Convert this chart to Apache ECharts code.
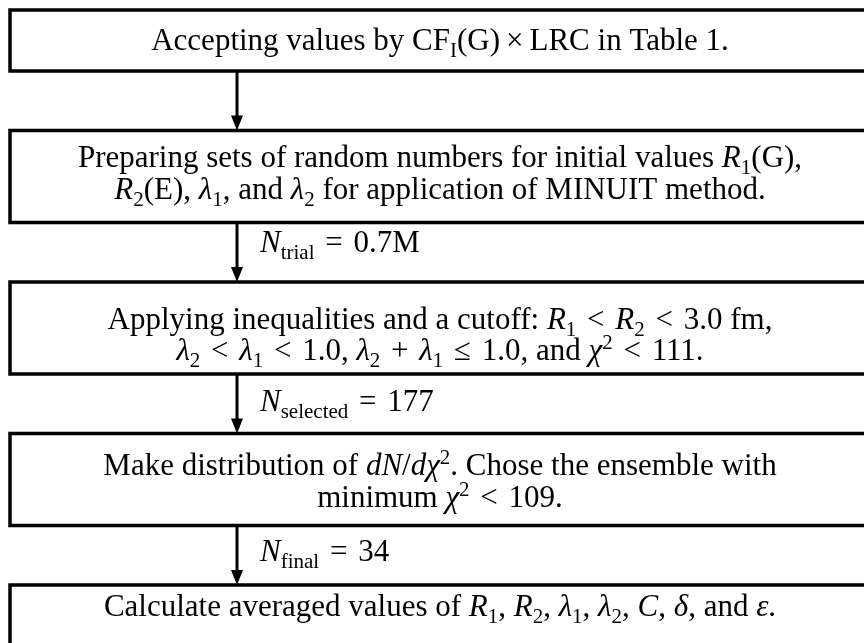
<!DOCTYPE html>
<html>
<head>
<meta charset="utf-8">
<script src="https://cdn.jsdelivr.net/npm/echarts@6/dist/echarts.min.js"></script>
<style>
  html, body { margin: 0; padding: 0; background: #fff; }
  #main { width: 864px; height: 643px; }
</style>
</head>
<body>
<div id="main"></div>
<script>
// flow steps, one entry per box, one string per text line (rich text markup)
const steps = [
  ['Accepting values by CF{sub|I}(G){bin|×}LRC in Table 1.'],
  ['Preparing sets of random numbers for initial values {it|R}{sub|1}(G),',
   '{it|R}{sub|2}(E), {it|λ}{sub|1}, and {it|λ}{sub|2} for application of MINUIT method.'],
  ['Applying inequalities and a cutoff: {it|R}{sub|1} {rel|<} {it|R}{sub|2} {rel|<} 3.0 fm,',
   '{it|λ}{sub|2} {rel|<} {it|λ}{sub|1} {rel|<} 1.0, {it|λ}{sub|2} {rel|+} {it|λ}{sub|1} {rel|≤} 1.0, and {it|χ}{sup|2} {rel|<} 111.'],
  ['Make distribution of {it|dN}/{it|dχ}{sup|2}. Chose the ensemble with',
   'minimum {it|χ}{sup|2} {rel|<} 109.'],
  ['Calculate averaged values of {it|R}{sub|1}, {it|R}{sub|2}, {it|λ}{sub|1}, {it|λ}{sub|2}, {it|C}, {it|δ}, and {it|ε}.']
]
// counts written next to the arrows (arrow k leads into box k + 1)
const counts = [
  null,
  '{it|N}{sub|trial} {rel|=} 0.7M',
  '{it|N}{sub|selected} {rel|=} 177',
  '{it|N}{sub|final} {rel|=} 34'
]

var myChart = echarts.init(document.getElementById('main'))

const fontFamily = '"Liberation Serif", "DejaVu Serif", serif'
const fontSize = 31
const rich = {
  it: { fontStyle: 'italic', fontSize: fontSize, fontFamily: fontFamily },
  rel: { fontSize: fontSize, fontFamily: fontFamily, padding: [0, 3, 0, 3] },
  bin: { fontSize: fontSize, fontFamily: fontFamily, padding: [0, 6, 0, 6] },
  sub: { fontSize: 21, fontFamily: fontFamily, padding: [19, 0, 0, 0] },
  sup: { fontSize: 21, fontFamily: fontFamily, padding: [0, 0, 17, 0] }
}

// layout: box heights, text line offsets from each box top, label shifts
const boxHeights = [61, 92, 92, 92, 61]
const lineOffsets = [[32], [28, 60], [38.5, 69.5], [33, 65], [22.5]]
const labelShift = [0, -8.5, -1, -2.5]
const boxLeft = 10
const boxWidth = 900
const textX = 440
const arrowX = 237
const gap = 59.5

const elements = []
let boxTop = 10
steps.forEach((lines, i) => {
  const h = boxHeights[i]
  if (i > 0) {
    const y0 = boxTop - gap
    elements.push({
      type: 'line',
      shape: { x1: arrowX, y1: y0, x2: arrowX, y2: boxTop - 12 },
      style: { stroke: '#000', lineWidth: 3 }
    })
    elements.push({
      type: 'polygon',
      shape: { points: [[arrowX - 6, boxTop - 15], [arrowX + 6, boxTop - 15], [arrowX, boxTop]] },
      style: { fill: '#000' }
    })
    if (counts[i - 1]) {
      elements.push({
        type: 'text',
        x: 260,
        y: boxTop - gap / 2 + labelShift[i - 1],
        style: {
          text: counts[i - 1],
          fontSize: fontSize,
          fontFamily: fontFamily,
          fill: '#000',
          align: 'left',
          verticalAlign: 'middle',
          rich: rich
        }
      })
    }
  }
  elements.push({
    type: 'rect',
    shape: { x: boxLeft, y: boxTop, width: boxWidth, height: h },
    style: { fill: 'none', stroke: '#000', lineWidth: 3.5 },
    z: 5
  })
  lines.forEach((t, k) => {
    elements.push({
      type: 'text',
      x: textX,
      y: boxTop + lineOffsets[i][k],
      style: {
        text: t,
        fontSize: fontSize,
        fontFamily: fontFamily,
        fill: '#000',
        align: 'center',
        verticalAlign: 'middle',
        rich: rich
      }
    })
  })
  boxTop += h + gap
})

const option = {
  backgroundColor: '#fff',
  animation: false,
  graphic: { elements: elements }
}
myChart.setOption(option)
</script>
</body>
</html>
